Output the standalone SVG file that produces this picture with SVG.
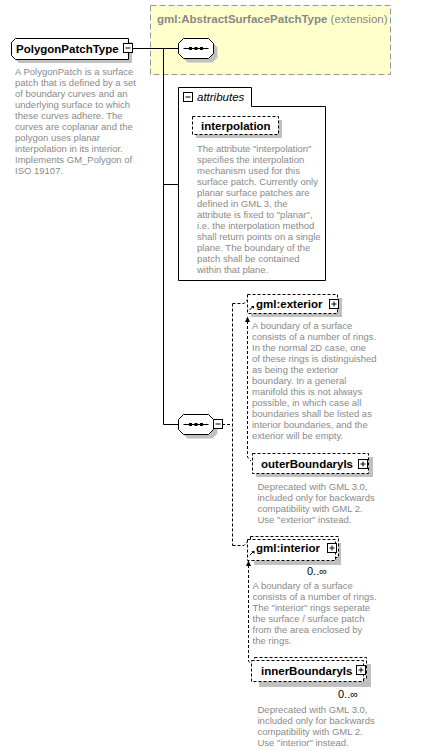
<svg xmlns="http://www.w3.org/2000/svg" width="433" height="751" viewBox="0 0 433 751">
<defs>
<style>
.lbl{font-family:"Liberation Sans",Arial,sans-serif;font-size:11.5px;font-weight:bold;fill:#000}
.desc{font-family:"Liberation Sans",Arial,sans-serif;font-size:9.5px;fill:#8a8a8a}
.occ{font-family:"Liberation Sans",Arial,sans-serif;font-size:11px;fill:#000}
.shadow{fill:#c0c0c0}
.box{fill:#fff;stroke:#000;stroke-width:1}
.dbox{fill:#fff;stroke:#000;stroke-width:1;stroke-dasharray:3,2}
.line{stroke:#000;stroke-width:1;fill:none}
.dline{stroke:#000;stroke-width:1;fill:none;stroke-dasharray:3,2}
.icon{fill:#fff;stroke:#000;stroke-width:1}
.head{fill:#000}
</style>
<g id="minus">
<rect class="icon" x="0" y="0" width="9" height="9"/>
<path class="line" d="M2,4.5H7"/>
</g>
<g id="plus">
<rect class="icon" x="0" y="0" width="9" height="9"/>
<path class="line" d="M2,4.5H7M4.5,2V7"/>
</g>
<g id="refarrow">
<path d="M0,4 L3,1" class="line"/>
<path d="M1.5,0 L4.5,0 L4.5,3 Z" fill="#000"/>
</g>
<g id="seq">
<polygon class="shadow" points="9,4 34,4 39,9 39,19 34,24 9,24 4,19 4,9"/>
<polygon class="box" points="5,0 30,0 35,5 35,15 30,20 5,20 0,15 0,5"/>
<path class="line" d="M5,10H30"/>
<rect x="10.5" y="8.5" width="3" height="3" fill="#000"/>
<rect x="16" y="8.5" width="3" height="3" fill="#000"/>
<rect x="21.5" y="8.5" width="3" height="3" fill="#000"/>
</g>
</defs>

<rect width="433" height="751" fill="#fff"/>

<g id="extension">
<rect x="150.5" y="5.5" width="240" height="69" fill="#ffffcc" stroke="#999" stroke-dasharray="6,3"/>
<text x="157" y="23" font-family="Liberation Sans,Arial,sans-serif" font-size="11.5" fill="#888"><tspan font-weight="bold">gml:AbstractSurfacePatchType</tspan> (extension)</text>
</g>

<g id="connectors">
<path class="line" d="M133,48.5H178"/>
<path class="line" d="M163.5,48.5V424.5H178"/>
<path class="line" d="M163.5,184.5H178"/>
<path class="dline" d="M222,424.5H232"/>
<path class="dline" d="M232.5,303.5V545.5"/>
<path class="dline" d="M232.5,303.5H244L247,300"/>
<path class="dline" d="M232.5,545.5H244L247,542"/>
<path class="dline" d="M247.5,321V457L251,461"/>
<polygon class="head" points="245,322 247.5,316.5 250,322"/>
<path class="dline" d="M248.5,565V661L252,665"/>
<polygon class="head" points="246,566 248.5,560.5 251,566"/>
</g>

<g id="PolygonPatchType">
<polygon class="shadow" points="19,42 132,42 132,63 19,63 15,59 15,46"/>
<polygon class="box" points="15.5,38.5 128.5,38.5 128.5,59.5 15.5,59.5 11.5,55.5 11.5,42.5"/>
<text class="lbl" x="16" y="53">PolygonPatchType</text>
<use href="#minus" x="123.5" y="43.5"/>
<text class="desc">
<tspan x="15" y="74.5">A PolygonPatch is a surface</tspan>
<tspan x="15" y="85.5">patch that is defined by a set</tspan>
<tspan x="15" y="96.5">of boundary curves and an</tspan>
<tspan x="15" y="107.5">underlying surface to which</tspan>
<tspan x="15" y="118.5">these curves adhere. The</tspan>
<tspan x="15" y="129.5">curves are coplanar and the</tspan>
<tspan x="15" y="140.5">polygon uses planar</tspan>
<tspan x="15" y="151.5">interpolation in its interior.</tspan>
<tspan x="15" y="162.5">Implements GM_Polygon of</tspan>
<tspan x="15" y="173.5">ISO 19107.</tspan>
</text>
</g>

<g id="sequence1">
<use href="#seq" x="178.5" y="38.5"/>
</g>

<g id="attributes">
<path class="box" d="M178.5,106.5V87.5H251.5V106.5H325.5V280.5H178.5Z"/>
<use href="#minus" x="183.5" y="92.5"/>
<text x="197" y="101" font-family="Liberation Sans,Arial,sans-serif" font-size="11.5" font-style="italic" fill="#000">attributes</text>
</g>

<g id="interpolation">
<rect class="shadow" x="196" y="120" width="86" height="18"/>
<rect class="dbox" x="192.5" y="116.5" width="86" height="18"/>
<text class="lbl" x="201" y="130">interpolation</text>
<text class="desc">
<tspan x="197" y="151.8">The attribute "interpolation"</tspan>
<tspan x="197" y="162.8">specifies the interpolation</tspan>
<tspan x="197" y="173.8">mechanism used for this</tspan>
<tspan x="197" y="184.8">surface patch. Currently only</tspan>
<tspan x="197" y="195.8">planar surface patches are</tspan>
<tspan x="197" y="206.8">defined in GML 3, the</tspan>
<tspan x="197" y="217.8">attribute is fixed to "planar",</tspan>
<tspan x="197" y="228.8">i.e. the interpolation method</tspan>
<tspan x="197" y="239.8">shall return points on a single</tspan>
<tspan x="197" y="250.8">plane. The boundary of the</tspan>
<tspan x="197" y="261.8">patch shall be contained</tspan>
<tspan x="197" y="272.8">within that plane.</tspan>
</text>
</g>

<g id="sequence2">
<use href="#seq" x="178.5" y="414.5"/>
<use href="#minus" x="213.5" y="419.5"/>
</g>

<g id="exterior">
<rect class="shadow" x="251" y="298" width="91" height="19"/>
<rect class="dbox" x="247.5" y="294.5" width="90" height="19"/>
<text class="lbl" x="256" y="308">gml:exterior</text>
<use href="#plus" x="329.5" y="299.5"/>
<use href="#refarrow" x="249.5" y="306"/>
<text class="desc">
<tspan x="252" y="328.5">A boundary of a surface</tspan>
<tspan x="252" y="339.5">consists of a number of rings.</tspan>
<tspan x="252" y="350.5">In the normal 2D case, one</tspan>
<tspan x="252" y="361.5">of these rings is distinguished</tspan>
<tspan x="252" y="372.5">as being the exterior</tspan>
<tspan x="252" y="383.5">boundary. In a general</tspan>
<tspan x="252" y="394.5">manifold this is not always</tspan>
<tspan x="252" y="405.5">possible, in which case all</tspan>
<tspan x="252" y="416.5">boundaries shall be listed as</tspan>
<tspan x="252" y="427.5">interior boundaries, and the</tspan>
<tspan x="252" y="438.5">exterior will be empty.</tspan>
</text>
</g>

<g id="outerBoundaryIs">
<rect class="shadow" x="256" y="457" width="117" height="20"/>
<rect class="dbox" x="252.5" y="453.5" width="116" height="20"/>
<text class="lbl" x="261" y="468">outerBoundaryIs</text>
<use href="#plus" x="358.5" y="459.5"/>
<text class="desc">
<tspan x="257.5" y="489.5">Deprecated with GML 3.0,</tspan>
<tspan x="257.5" y="500.5">included only for backwards</tspan>
<tspan x="257.5" y="511.5">compatibility with GML 2.</tspan>
<tspan x="257.5" y="522.5">Use "exterior" instead.</tspan>
</text>
</g>

<g id="interior">
<rect class="shadow" x="254" y="543" width="87" height="22"/>
<rect class="dbox" x="250.5" y="536.5" width="88" height="21"/>
<rect class="dbox" x="247.5" y="539.5" width="88" height="21"/>
<text class="lbl" x="256" y="552">gml:interior</text>
<use href="#plus" x="327.5" y="543.5"/>
<use href="#refarrow" x="250" y="551"/>
<text class="occ" x="307" y="575">0..∞</text>
<text class="desc">
<tspan x="252.5" y="588.5">A boundary of a surface</tspan>
<tspan x="252.5" y="599.5">consists of a number of rings.</tspan>
<tspan x="252.5" y="610.5">The "interior" rings seperate</tspan>
<tspan x="252.5" y="621.5">the surface / surface patch</tspan>
<tspan x="252.5" y="632.5">from the area enclosed by</tspan>
<tspan x="252.5" y="643.5">the rings.</tspan>
</text>
</g>

<g id="innerBoundaryIs">
<rect class="shadow" x="259" y="664" width="112" height="23"/>
<rect class="dbox" x="254.5" y="657.5" width="112" height="21"/>
<rect class="dbox" x="251.5" y="660.5" width="112" height="21"/>
<text class="lbl" x="261" y="675">innerBoundaryIs</text>
<use href="#plus" x="356.5" y="665.5"/>
<text class="occ" x="338" y="698">0..∞</text>
<text class="desc">
<tspan x="257.5" y="712.5">Deprecated with GML 3.0,</tspan>
<tspan x="257.5" y="723.5">included only for backwards</tspan>
<tspan x="257.5" y="734.5">compatibility with GML 2.</tspan>
<tspan x="257.5" y="745.5">Use "interior" instead.</tspan>
</text>
</g>
</svg>
